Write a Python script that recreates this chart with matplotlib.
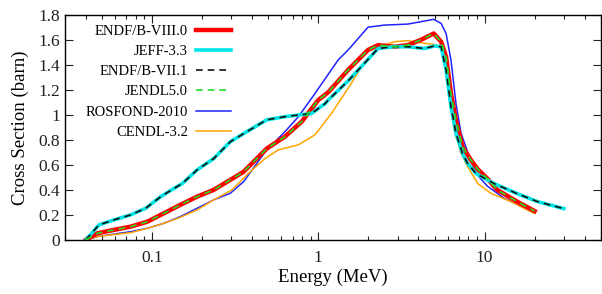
import matplotlib
matplotlib.use("Agg")
import matplotlib.pyplot as plt
from matplotlib.ticker import FixedLocator, LogLocator, NullFormatter

plt.rcParams['font.family'] = ['Liberation Serif', 'DejaVu Serif']
plt.rcParams['mathtext.fontset'] = 'stix'

# ---- data (Energy in MeV, cross section in barn) ----
e_endf8 = [0.04, 0.047, 0.059, 0.0745, 0.094, 0.118, 0.148, 0.187, 0.235, 0.296, 0.356,
           0.49, 0.63, 0.795, 1.0, 1.148, 1.51, 1.99, 2.29, 2.88, 3.46, 4.16, 4.95, 5.48,
           5.87, 6.28, 6.73, 7.37, 8.26, 9.1, 10.4, 11.9, 15.7, 20.0]
s_endf8 = [0.0, 0.053, 0.08, 0.106, 0.146, 0.213, 0.28, 0.346, 0.40, 0.48, 0.545,
           0.73, 0.825, 0.945, 1.118, 1.18, 1.358, 1.518, 1.557, 1.544, 1.557, 1.60, 1.65, 1.584,
           1.464, 1.17, 0.958, 0.745, 0.64, 0.565, 0.49, 0.40, 0.306, 0.23]

e_jendl5 = list(e_endf8)
s_jendl5 = list(s_endf8)

e_jeff33 = [0.04, 0.048, 0.059, 0.0745, 0.0917, 0.113, 0.135, 0.152, 0.187, 0.235, 0.296, 0.356,
            0.49, 0.63, 0.91, 1.1, 1.148, 1.51, 2.29, 2.88, 3.46, 4.35, 4.99, 5.48,
            5.87, 6.28, 6.73, 7.37, 7.92, 8.9, 11.4, 15.7, 20.8, 30.0]
s_jeff33 = [0.0, 0.12, 0.16, 0.2, 0.253, 0.346, 0.41, 0.45, 0.56, 0.65, 0.785, 0.85,
            0.96, 0.985, 1.01, 1.09, 1.118, 1.27, 1.53, 1.545, 1.544, 1.53, 1.55, 1.544,
            1.358, 1.065, 0.852, 0.69, 0.61, 0.53, 0.45, 0.37, 0.306, 0.25]

e_endf71 = list(e_jeff33)
s_endf71 = list(s_jeff33)

e_rosfond = [0.04, 0.047, 0.0745, 0.094, 0.118, 0.148, 0.187, 0.235, 0.296, 0.356,
             0.48, 0.63, 0.76, 0.955, 1.32, 1.51, 1.99, 2.5, 3.46, 4.95, 5.48,
             5.87, 6.28, 6.73, 7.22, 8.1, 8.9, 10.4, 13.1, 16.5, 19.8]
s_rosfond = [0.0, 0.027, 0.066, 0.093, 0.133, 0.186, 0.253, 0.32, 0.373, 0.466,
             0.705, 0.865, 0.985, 1.17, 1.44, 1.517, 1.70, 1.717, 1.725, 1.763, 1.73,
             1.65, 1.438, 1.09, 0.852, 0.665, 0.53, 0.43, 0.333, 0.27, 0.23]

e_cendl = [0.04, 0.047, 0.0745, 0.094, 0.118, 0.148, 0.187, 0.235, 0.303, 0.381,
           0.48, 0.576, 0.76, 0.955, 1.2, 1.51, 1.82, 2.29, 2.88, 3.46, 4.35, 5.0, 5.48,
           5.87, 6.14, 6.58, 7.22, 7.92, 9.1, 10.9, 14.4, 19.8]
s_cendl = [0.0, 0.027, 0.058, 0.093, 0.133, 0.18, 0.24, 0.32, 0.40, 0.533,
           0.652, 0.72, 0.76, 0.84, 1.01, 1.21, 1.384, 1.544, 1.584, 1.593, 1.571, 1.563, 1.544,
           1.358, 1.145, 0.88, 0.69, 0.585, 0.45, 0.373, 0.306, 0.213]

labels = ['ENDF/B-VIII.0', 'JEFF-3.3', 'ENDF/B-VII.1', 'JENDL5.0', 'ROSFOND-2010', 'CENDL-3.2']
y_ticks = [0, 0.2, 0.4, 0.6, 0.8, 1.0, 1.2, 1.4, 1.6, 1.8]
y_ticklabels = ['0', '0.2', '0.4', '0.6', '0.8', '1', '1.2', '1.4', '1.6', '1.8']
x_ticks = [0.1, 1, 10]
x_ticklabels = ['0.1', '1', '10']

fig = plt.figure(figsize=(6.02, 2.94), dpi=100)
ax = fig.add_axes([0.108, 0.184, 0.89, 0.766])

ax.plot(e_endf8, s_endf8, color='#ff0000', lw=3.2, label=labels[0], zorder=2)
ax.plot(e_jeff33, s_jeff33, color='#00e5e5', lw=2.6, label=labels[1], zorder=2)
ax.plot(e_endf71, s_endf71, color='#111111', lw=1.2, ls=(0, (4, 3)), label=labels[2], zorder=3)
ax.plot(e_jendl5, s_jendl5, color='#22dd22', lw=1.2, ls=(0, (4, 3)), label=labels[3], zorder=3)
ax.plot(e_rosfond, s_rosfond, color='#2222ff', lw=1.1, label=labels[4], zorder=1)
ax.plot(e_cendl, s_cendl, color='#ffa500', lw=1.1, label=labels[5], zorder=1)

ax.set_xscale('log')
ax.set_xlim(0.03, 50)
ax.set_ylim(0, 1.8)
ax.xaxis.set_major_locator(FixedLocator(x_ticks))
ax.set_xticklabels(x_ticklabels)
ax.xaxis.set_minor_locator(LogLocator(base=10, subs=range(2, 10), numticks=20))
ax.xaxis.set_minor_formatter(NullFormatter())
ax.set_yticks(y_ticks)
ax.set_yticklabels(y_ticklabels)

ax.tick_params(which='both', direction='in', top=True, right=True, labelsize=12.5, colors='#222222')
ax.tick_params(which='major', length=6, width=0.8)
ax.tick_params(which='minor', length=3, width=0.8)
ax.tick_params(axis='x', pad=7)
for sp in ax.spines.values():
    sp.set_linewidth(1.0)

ax.set_xlabel('Energy (MeV)', fontsize=13.5, labelpad=2)
ax.set_ylabel('Cross Section (barn)', fontsize=13.5, labelpad=7)

leg = ax.legend(loc='upper right', bbox_to_anchor=(0.3205, 0.982), frameon=False, markerfirst=False,
                fontsize=10.5, handlelength=2.4, handletextpad=0.55, labelspacing=0.48,
                borderaxespad=0.0, borderpad=0.4)

fig.savefig('out.png', dpi=100)
